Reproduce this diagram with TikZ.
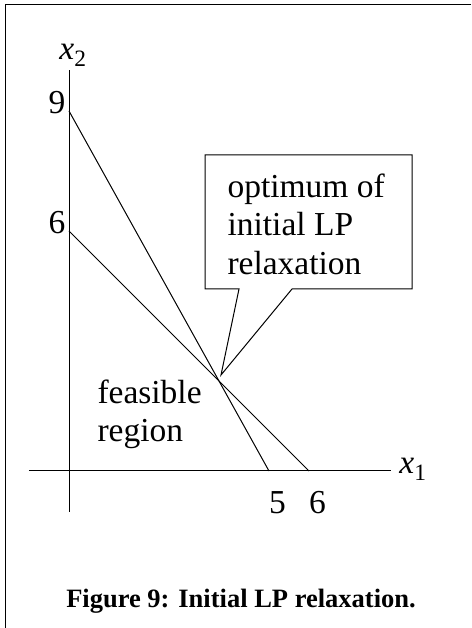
\documentclass[tikz,border=0pt]{standalone}
\usepackage{fontspec}
\setmainfont{Liberation Serif}
\begin{document}
\begin{tikzpicture}[x=40pt,y=40pt,line width=1pt,
    lbl/.style={inner sep=0pt,font=\fontsize{33.5}{38.5}\selectfont},
    txt/.style={lbl,align=left,anchor=north west}]
   \useasboundingbox (-1.725,-3.925) rectangle (10.05,11.775);
   % frame
   \draw (10.05,11.65) -- (-1.575,11.65) -- (-1.575,-3.925);
   % axes
   \coordinate (xl) at (-1,0);
   \coordinate (xr) at (8.05,0);
   \coordinate (yb) at (0,-1.025);
   \coordinate (yt) at (0,10.025);
   \draw (xl) -- (xr);
   \draw (yb) -- (yt);
   \node[lbl] (x1) at (8.6,0.05) {\textit{x}\textsubscript{1}};
   \node[lbl] (x2) at (0.1,10.4) {\textit{x}\textsubscript{2}};
   % intercepts
   \foreach \n/\y in {9,6}
     {
     \coordinate (a\n) at (0,\n);
     \node[lbl] (la\n) at (-0.3,\n+0.2) {\n};
     }
   \foreach \n in {5,6}
     {
     \coordinate (b\n) at (\n,0);
     \node[lbl] (lb\n) at (\n+0.21,-0.78) {\n};
     }
   \draw (a9) -- (b5);
   \draw (a6) -- (b6);
   % callout
   \coordinate (tip) at (3.8,2.4);
   \draw (4.25,4.55) -- (tip) -- (5.575,4.55) -- (8.575,4.55)
      -- (8.575,7.9) -- (3.4,7.9) -- (3.4,4.55) -- cycle;
   \node[txt] (opt) at (3.95,7.45) {optimum of\\initial LP\\relaxation};
   \node[txt] (feas) at (0.7,2.3) {feasible\\region};
   % caption
   \node[inner sep=0pt,font=\fontsize{26.5}{30}\selectfont\bfseries] (cap)
      at (4.3,-3.25) {Figure 9: Initial LP relaxation.};
\end{tikzpicture}
\end{document}
